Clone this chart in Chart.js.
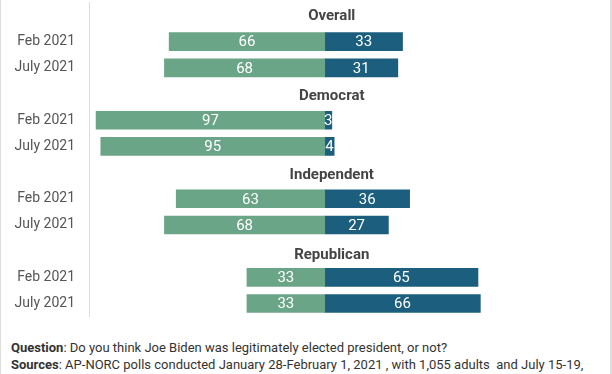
<!DOCTYPE html>
<html>
<head>
<meta charset="utf-8">
<script src="https://cdn.jsdelivr.net/npm/chart.js@4"></script>
<style>
  html, body { margin: 0; padding: 0; background: #fff; }
  #wrap {
    position: relative; width: 612px; height: 374px; overflow: hidden;
    box-sizing: border-box; border-left: 1px solid #ddd; border-right: 2px solid #ddd;
  }
  /* the box is taller than the plot so that the plot area itself runs from 0 to 318 */
  #chartBox { position: absolute; left: 0; top: -20px; width: 609px; height: 359px; }
  #notes {
    position: absolute; left: 10px; top: 340px; width: 598px;
    font-family: Roboto, sans-serif; font-size: 13px; line-height: 16.5px; color: #333;
  }
</style>
</head>
<body>
<div id="wrap">
  <div id="chartBox"><canvas id="pollChart"></canvas></div>
  <div id="notes">
    <div><b>Question</b>: Do you think Joe Biden was legitimately elected president, or not?</div>
    <div><b>Sources</b>: AP-NORC polls conducted January 28-February 1, 2021 , with 1,055 adults&nbsp; and July 15-19,</div>
  </div>
</div>
<script>
const groups = ['Overall', 'Democrat', 'Independent', 'Republican']
const periods = ['Feb 2021', 'July 2021']
// legitimately elected (green, left) / not (blue, right)
const yesValues = [66, 68, 97, 95, 63, 68, 33, 33]
const noValues = [33, 31, 3, 4, 36, 27, 65, 66]

const green = '#6ba587'
const blue = '#1b5e7d'

// one empty row per group for the group title, then the two periods
let labels = []
let yesData = []
let noData = []
groups.forEach((g, i) => {
    labels.push(g)
    yesData.push(null)
    noData.push(null)
    periods.forEach((p, j) => {
        labels.push(p)
        yesData.push(-yesValues[i * 2 + j])
        noData.push(noValues[i * 2 + j])
    })
})

const barText = {
    id: 'barText',
    afterDatasetsDraw(chart) {
        const ctx = chart.ctx
        const xScale = chart.scales.x
        const yScale = chart.scales.y
        ctx.save()
        // group titles
        ctx.font = 'bold 15px Roboto'
        ctx.fillStyle = '#444'
        ctx.textAlign = 'center'
        ctx.textBaseline = 'middle'
        groups.forEach((g, i) => {
            const y = yScale.getPixelForValue(i * 3)
            ctx.fillText(g, xScale.getPixelForValue(0) + 7, y + 1 + i)
        })
        // values inside bars
        ctx.font = '15px Roboto'
        ctx.fillStyle = '#fff'
        chart.data.datasets.forEach((ds, di) => {
            chart.getDatasetMeta(di).data.forEach((bar, k) => {
                const v = ds.data[k]
                if (v === null) return
                const cx = (bar.x + bar.base) / 2
                ctx.fillText(Math.abs(v), cx, bar.y + 1)
            })
        })
        ctx.restore()
    }
}

new Chart(document.getElementById('pollChart').getContext('2d'), {
    type: 'bar',
    data: {
        labels: labels,
        datasets: [{
            label: 'Yes',
            data: yesData,
            backgroundColor: green,
            barThickness: 18
        }, {
            label: 'No',
            data: noData,
            backgroundColor: blue,
            barThickness: 18
        }]
    },
    options: {
        indexAxis: 'y',
        responsive: true,
        maintainAspectRatio: false,
        animation: false,
        plugins: {
            legend: { display: false },
            tooltip: { enabled: false }
        },
        scales: {
            x: {
                stacked: true,
                display: false,
                min: -100,
                max: 121
            },
            y: {
                stacked: true,
                grid: { display: false, drawTicks: false },
                border: { display: true, color: '#ddd', width: 1 },
                ticks: {
                    padding: 14,
                    color: '#555',
                    font: { family: 'Roboto', size: 14 },
                    callback: function (value, index) {
                        return index % 3 === 0 ? '' : labels[index]
                    }
                },
                afterFit: function (scale) { scale.width = 88 }
            }
        }
    },
    plugins: [barText]
})
</script>
</body>
</html>
